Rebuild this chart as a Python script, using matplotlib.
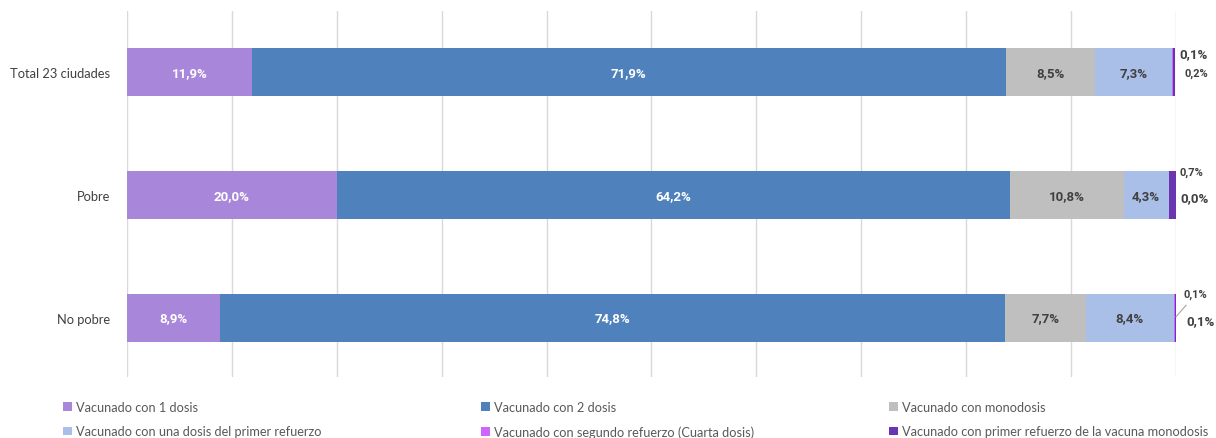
import matplotlib.pyplot as plt

plt.rcParams['font.family'] = ['Lato', 'DejaVu Sans']

# ============================================
# Data
# ============================================

categories = ["Total 23 ciudades", "Pobre", "No pobre"]

series_names = [
    "Vacunado con 1 dosis",
    "Vacunado con 2 dosis",
    "Vacunado con monodosis",
    "Vacunado con una dosis del primer refuerzo",
    "Vacunado con segundo refuerzo (Cuarta dosis)",
    "Vacunado con primer refuerzo de la vacuna monodosis",
]

una_dosis = [11.9, 20.0, 8.9]
dos_dosis = [71.9, 64.2, 74.8]
monodosis = [8.5, 10.8, 7.7]
primer_refuerzo = [7.3, 4.3, 8.4]
segundo_refuerzo = [0.1, 0.0, 0.1]
refuerzo_monodosis = [0.2, 0.7, 0.1]

colors = ["#A886DA", "#4F81BD", "#BFBFBF", "#A9BFE8", "#CC66FF", "#6A35B0"]
label_colors = ["white", "white", "#404040", "#404040"]

value_font = ['Roboto', 'DejaVu Sans']


def fmt(v):
    return f"{v:.1f}%".replace(".", ",")


# ============================================
# Stacked Bar Plot
# ============================================

fig = plt.figure(figsize=(12.16, 4.39), dpi=100)
ax = fig.add_axes([0.1044, 0.139, 0.8627, 0.8337])

all_series = [una_dosis, dos_dosis, monodosis, primer_refuerzo,
              segundo_refuerzo, refuerzo_monodosis]

y = list(range(len(categories)))
left = [0.0] * len(categories)
handles = []

for i, values in enumerate(all_series):
    bars = ax.barh(y, values, left=left, height=0.39,
                   color=colors[i], label=series_names[i], zorder=3)
    handles.append(bars)
    if i < 4:
        for j, v in enumerate(values):
            ax.text(left[j] + v / 2, y[j], fmt(v), ha="center", va="center",
                    fontsize=9.5, fontweight="bold", color=label_colors[i],
                    family=value_font, zorder=4)
    left = [a + b for a, b in zip(left, values)]

# small segments labelled outside the bar
small = dict(fontsize=8, fontweight="bold", color="#404040",
             va="center", family=value_font)
big = dict(fontsize=9.5, fontweight="bold", color="#404040",
           va="center", family=value_font)

ax.text(100.35, 0 - 0.15, fmt(segundo_refuerzo[0]), **big)
ax.text(100.8, 0.0, fmt(refuerzo_monodosis[0]), **small)

ax.text(100.3, 1 - 0.19, fmt(refuerzo_monodosis[1]), **small)
ax.text(100.4, 1 + 0.02, fmt(segundo_refuerzo[1]), **big)

ax.annotate(fmt(refuerzo_monodosis[2]), xy=(100.0, 2 - 0.01),
            xytext=(100.75, 2 - 0.195), arrowprops=dict(
                arrowstyle="-", color="#A6A6A6", lw=0.8,
                shrinkA=3, shrinkB=0),
            **small)
ax.text(100.95, 2 + 0.02, fmt(segundo_refuerzo[2]), **big)

ax.set_xlim(0, 100)
ax.set_ylim(2.48, -0.5)
ax.set_xticks(range(0, 101, 10))
ax.set_xticklabels([])
ax.tick_params(axis="x", length=0)
ax.tick_params(axis="y", length=0, pad=12, labelsize=9.3, labelcolor="#404040")
ax.set_yticks(y)
ax.set_yticklabels(categories)
ax.grid(axis="x", color="#D9D9D9", lw=1, zorder=0)
for s in ax.spines.values():
    s.set_visible(False)

# legend: three columns, filled row by row
columns = [[0, 3], [1, 4], [2, 5]]
col_x = [0.0518, 0.3956, 0.7311]
for col, x0 in zip(columns, col_x):
    leg = fig.legend([handles[k] for k in col], [series_names[k] for k in col],
                     loc="upper left", bbox_to_anchor=(x0, 0.085), ncol=1,
                     frameon=False, fontsize=9.2, handlelength=0.7,
                     handleheight=0.7, handletextpad=0.3,
                     labelspacing=1.0, borderpad=0, borderaxespad=0)
    for t in leg.get_texts():
        t.set_color("#595959")

plt.savefig("out.png", dpi=100)
plt.close()
